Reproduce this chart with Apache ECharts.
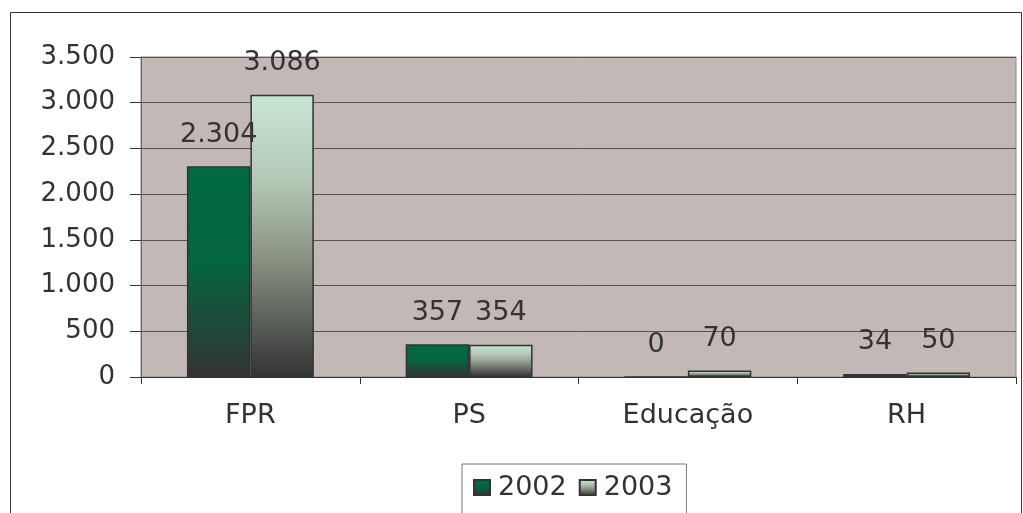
<!DOCTYPE html>
<html>
<head>
<meta charset="utf-8">
<script src="https://cdn.jsdelivr.net/npm/echarts@6/dist/echarts.min.js"></script>
<style>
  html, body { margin: 0; padding: 0; background: #fff; }
  #chart { width: 1023px; height: 513px; }
</style>
</head>
<body>
<div id="chart"></div>
<script>
var categories = ['FPR', 'PS', 'Educação', 'RH'];
var years = ['2002', '2003'];
var values2002 = [2304, 357, 0, 34];
var values2003 = [3086, 354, 70, 50];

// 1.234 style
function fmt(v) {
    return String(v).replace(/\B(?=(\d{3})+(?!\d))/g, '.');
}

var chart = echarts.init(document.getElementById('chart'));
var FONT = 'DejaVu Sans, Verdana, sans-serif';

var green = new echarts.graphic.LinearGradient(0, 0, 0, 1, [
    { offset: 0, color: '#006a40' },
    { offset: 0.45, color: '#046640' },
    { offset: 1, color: '#333334' }
]);
var light = new echarts.graphic.LinearGradient(0, 0, 0, 1, [
    { offset: 0, color: '#c8e6d4' },
    { offset: 0.3, color: '#b4c8b6' },
    { offset: 0.55, color: '#8f9888' },
    { offset: 1, color: '#333334' }
]);

var labelStyle = {
    show: true,
    position: 'top',
    distance: 18,
    color: '#333',
    fontSize: 27,
    fontFamily: FONT,
    formatter: function (p) { return fmt(p.value); }
};

var option = {
    animation: false,
    textStyle: { fontFamily: FONT },
    graphic: [{
        type: 'rect',
        shape: { x: 10.5, y: 12.5, width: 1011, height: 520 },
        style: { fill: 'none', stroke: '#333', lineWidth: 1 },
        silent: true,
        z: -1
    }],
    grid: {
        left: 141,
        right: 7,
        top: 57,
        bottom: 136,
        show: true,
        backgroundColor: '#c2b8b5',
        borderColor: '#8f8583',
        borderWidth: 1
    },
    legend: {
        data: years,
        top: 464,
        left: 462,
        itemWidth: 16,
        itemHeight: 15,
        itemGap: 12,
        padding: [10, 14, 30, 11],
        borderColor: '#777',
        borderWidth: 1,
        backgroundColor: '#fff',
        textStyle: { fontSize: 27, color: '#333', padding: [0, 0, 0, 3] },
        icon: 'rect'
    },
    xAxis: {
        type: 'category',
        data: categories,
        axisLine: { lineStyle: { color: '#333', width: 1 } },
        axisTick: { show: true, length: 7, lineStyle: { color: '#333' } },
        axisLabel: { fontSize: 27, color: '#333', margin: 25 }
    },
    yAxis: {
        type: 'value',
        min: 0,
        max: 3500,
        interval: 500,
        axisLine: { show: true, lineStyle: { color: '#666' } },
        axisTick: { show: true, length: 11, lineStyle: { color: '#333' } },
        axisLabel: { fontSize: 26, color: '#333', margin: 26, formatter: fmt },
        splitLine: { lineStyle: { color: '#5a5252', width: 1 } }
    },
    series: [{
        name: '2002',
        type: 'bar',
        data: values2002,
        barGap: '0%',
        barCategoryGap: '42%',
        itemStyle: { color: green, borderColor: '#333', borderWidth: 1.5 },
        label: labelStyle
    }, {
        name: '2003',
        type: 'bar',
        data: values2003,
        itemStyle: { color: light, borderColor: '#333', borderWidth: 1.5 },
        label: labelStyle
    }]
};

chart.setOption(option);
</script>
</body>
</html>
